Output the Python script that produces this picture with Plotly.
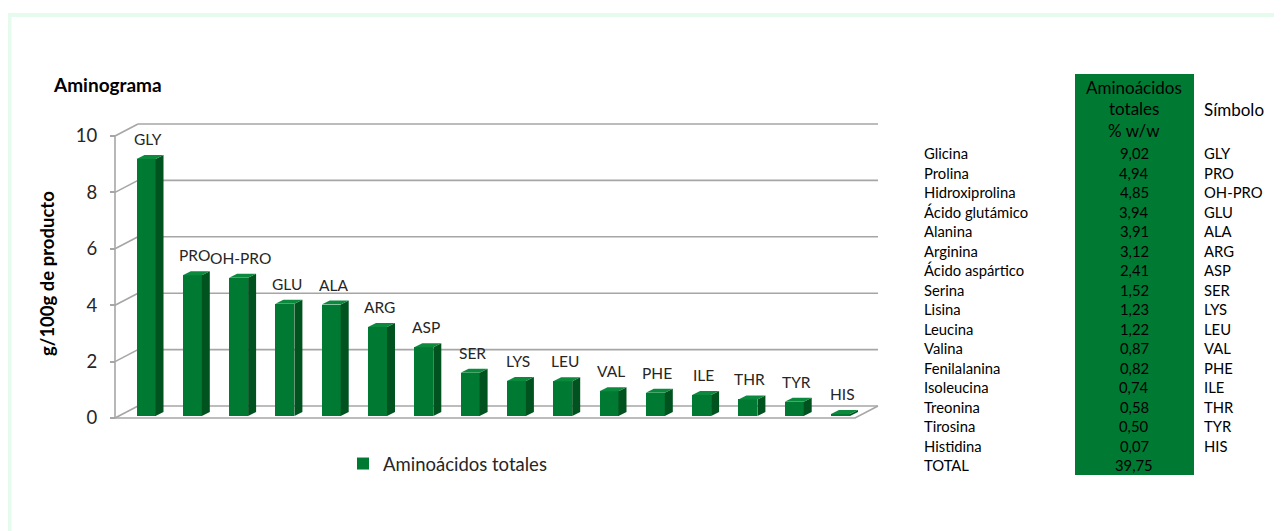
import plotly.graph_objects as go

# ---------------- data ----------------
symbols = ["GLY", "PRO", "OH-PRO", "GLU", "ALA", "ARG", "ASP", "SER", "LYS",
           "LEU", "VAL", "PHE", "ILE", "THR", "TYR", "HIS"]
values = [9.02, 4.94, 4.85, 3.94, 3.91, 3.12, 2.41, 1.52, 1.23, 1.22,
          0.87, 0.82, 0.74, 0.58, 0.50, 0.07]
names = ["Glicina", "Prolina", "Hidroxiprolina", "Ácido glutámico", "Alanina",
         "Arginina", "Ácido aspártico", "Serina", "Lisina", "Leucina", "Valina",
         "Fenilalanina", "Isoleucina", "Treonina", "Tirosina", "Histidina"]
value_labels = ["9,02", "4,94", "4,85", "3,94", "3,91", "3,12", "2,41", "1,52",
                "1,23", "1,22", "0,87", "0,82", "0,74", "0,58", "0,50", "0,07"]
total_label = "39,75"
y_ticks = [0, 2, 4, 6, 8, 10]
series_name = "Aminoácidos totales"

# ---------------- styling / geometry ----------------
PAGE_W, PAGE_H = 1282, 531
OFF = 8                      # browser body margin
W, H = PAGE_W - OFF, PAGE_H - OFF
FONT = "Lato, 'Open Sans', sans-serif"
GREEN = "#007a33"
GREEN_SIDE = "#00521f"
GREEN_TOP = "#0b8a3e"
GRID = "#a6a6a6"
TXT = "#262626"

def PX(x):  # page pixel x -> paper
    return (x - OFF) / W

def PY(y):  # page pixel y -> paper
    return 1 - (y - OFF) / H

# x axis: category index -> page pixel  px = X0 + SX * i
X0, SX = 146.0, 46.3
# frame axis (y): py = FY0 - FS * v ; bar axis (y2): py = BY0 - BS * v
FY0, FS = 418.0, 28.2
BY0, BS = 416.0, 28.5

xr = [-(X0 - OFF) / SX, (W - (X0 - OFF)) / SX]
yr = [(FY0 - OFF - H) / FS, (FY0 - OFF) / FS]
y2r = [(BY0 - OFF - H) / BS, (BY0 - OFF) / BS]

def px2x(d):  # pixel distance -> x units
    return d / SX

bar_w = px2x(19)          # front face width
dep_x = px2x(8)           # bar depth offset in x
dep_y = 4 / BS            # bar depth offset in y2
wall_dx = px2x(23)        # back wall offset x
wall_dy = 12 / FS         # back wall offset y

n = len(values)
xs = list(range(n))
x_left = (115 - X0) / SX  # front axis position
x_right = (855 - X0) / SX # front right edge of floor

fig = go.Figure()

# ---- back wall gridlines, side wall diagonals, floor ----
gx, gy = [], []
for t in y_ticks:
    gx += [x_left, x_left + wall_dx, None]
    gy += [t, t + wall_dy, None]
    gx += [x_left + wall_dx, x_right + wall_dx, None]
    gy += [t + wall_dy, t + wall_dy, None]
gx += [x_left, x_left, None]
gy += [0, max(y_ticks), None]
gx += [x_left, x_right, x_right + wall_dx, None]
gy += [0, 0, wall_dy, None]
fig.add_trace(go.Scatter(x=gx, y=gy, mode="lines", line=dict(color=GRID, width=1.6),
                         hoverinfo="skip", showlegend=False))

# ---- bars (front face) ----
fig.add_trace(go.Bar(x=xs, y=values, width=bar_w, marker=dict(color=GREEN, line=dict(width=0)),
                     name=series_name, yaxis="y2", showlegend=True))

# side faces
sx, sy = [], []
for i, v in zip(xs, values):
    r = i + bar_w / 2
    sx += [r, r + dep_x, r + dep_x, r, r, None]
    sy += [0, dep_y, v + dep_y, v, 0, None]
fig.add_trace(go.Scatter(x=sx, y=sy, mode="lines", fill="toself", fillcolor=GREEN_SIDE,
                         line=dict(width=0, color=GREEN_SIDE), yaxis="y2",
                         hoverinfo="skip", showlegend=False))
# top faces
tx, ty = [], []
for i, v in zip(xs, values):
    l, r = i - bar_w / 2, i + bar_w / 2
    tx += [l, r, r + dep_x, l + dep_x, l, None]
    ty += [v, v, v + dep_y, v + dep_y, v, None]
fig.add_trace(go.Scatter(x=tx, y=ty, mode="lines", fill="toself", fillcolor=GREEN_TOP,
                         line=dict(width=0, color=GREEN_TOP), yaxis="y2",
                         hoverinfo="skip", showlegend=False))

# ---- data labels (symbols) ----
annotations = []
for i, v, s in zip(xs, values, symbols):
    annotations.append(dict(x=i, y=v, xref="x", yref="y2", text=s, showarrow=False,
                            yshift=20, xshift=2, font=dict(family=FONT, size=15.5, color=TXT)))

# ---- titles ----
annotations.append(dict(x=PX(51), y=PY(84), xref="paper", yref="paper", text="<b>Aminograma</b>",
                        showarrow=False, xanchor="left", yanchor="middle",
                        font=dict(family=FONT, size=19, color="#000000")))
annotations.append(dict(x=PX(47), y=PY(274), xref="paper", yref="paper",
                        text="<b>g/100g de producto</b>", textangle=-90, showarrow=False,
                        xanchor="center", yanchor="middle",
                        font=dict(family=FONT, size=18.5, color="#000000")))

# ---- table at right ----
TF = dict(family=FONT, size=14.8, color="#000000")
row0, row_h = 153, 19.5
name_x, val_x, sym_x = 922, 1134, 1202
for k, (nm, vl, sb) in enumerate(zip(names, value_labels, symbols)):
    py = row0 + k * row_h
    annotations.append(dict(x=PX(name_x), y=PY(py), xref="paper", yref="paper", text=nm,
                            showarrow=False, xanchor="left", yanchor="middle", font=TF))
    annotations.append(dict(x=PX(val_x), y=PY(py), xref="paper", yref="paper", text=vl,
                            showarrow=False, xanchor="center", yanchor="middle", font=TF))
    annotations.append(dict(x=PX(sym_x), y=PY(py), xref="paper", yref="paper", text=sb,
                            showarrow=False, xanchor="left", yanchor="middle", font=TF))
py_total = row0 + n * row_h
annotations.append(dict(x=PX(name_x), y=PY(py_total), xref="paper", yref="paper", text="TOTAL",
                        showarrow=False, xanchor="left", yanchor="middle", font=TF))
annotations.append(dict(x=PX(val_x), y=PY(py_total), xref="paper", yref="paper", text=total_label,
                        showarrow=False, xanchor="center", yanchor="middle", font=TF))
HF = dict(family=FONT, size=17, color="#000000")
for txt, py in [("Aminoácidos", 87), ("totales", 108.5), ("% w/w", 130)]:
    annotations.append(dict(x=PX(val_x), y=PY(py), xref="paper", yref="paper", text=txt,
                            showarrow=False, xanchor="center", yanchor="middle", font=HF))
annotations.append(dict(x=PX(sym_x), y=PY(109), xref="paper", yref="paper", text="Símbolo",
                        showarrow=False, xanchor="left", yanchor="middle", font=HF))

shapes = [
    dict(type="rect", xref="paper", yref="paper", x0=PX(1075), x1=PX(1194),
         y0=PY(475), y1=PY(74), fillcolor=GREEN, line=dict(width=0), layer="below"),
    dict(type="line", xref="paper", yref="paper", x0=PX(6), x1=1, y0=PY(15), y1=PY(15),
         line=dict(color="#e4fbee", width=4), layer="below"),
    dict(type="line", xref="paper", yref="paper", x0=PX(9), x1=PX(9), y0=0, y1=PY(13),
         line=dict(color="#e4fbee", width=5), layer="below"),
]

fig.update_layout(
    width=W, height=H,
    margin=dict(l=0, r=0, t=0, b=0),
    paper_bgcolor="white", plot_bgcolor="rgba(0,0,0,0)",
    font=dict(family=FONT, color=TXT),
    xaxis=dict(range=xr, visible=False, fixedrange=True),
    yaxis=dict(range=yr, domain=[0, 1], anchor="free", position=PX(115),
               tickvals=y_ticks, ticktext=[str(t) for t in y_ticks],
               ticks="outside", ticklen=5, tickcolor=GRID, tickwidth=1.5,
               ticklabelstandoff=9,
               showgrid=False, zeroline=False, showline=False,
               tickfont=dict(family=FONT, size=18.5, color=TXT), fixedrange=True),
    yaxis2=dict(range=y2r, overlaying="y", visible=False, fixedrange=True),
    showlegend=True,
    legend=dict(x=PX(343), y=PY(464), xanchor="left", yanchor="middle",
                font=dict(family=FONT, size=18.5, color=TXT), bgcolor="rgba(0,0,0,0)",
                itemwidth=30),
    annotations=annotations,
    shapes=shapes,
    bargap=0,
)

fig.write_html("out.html")
